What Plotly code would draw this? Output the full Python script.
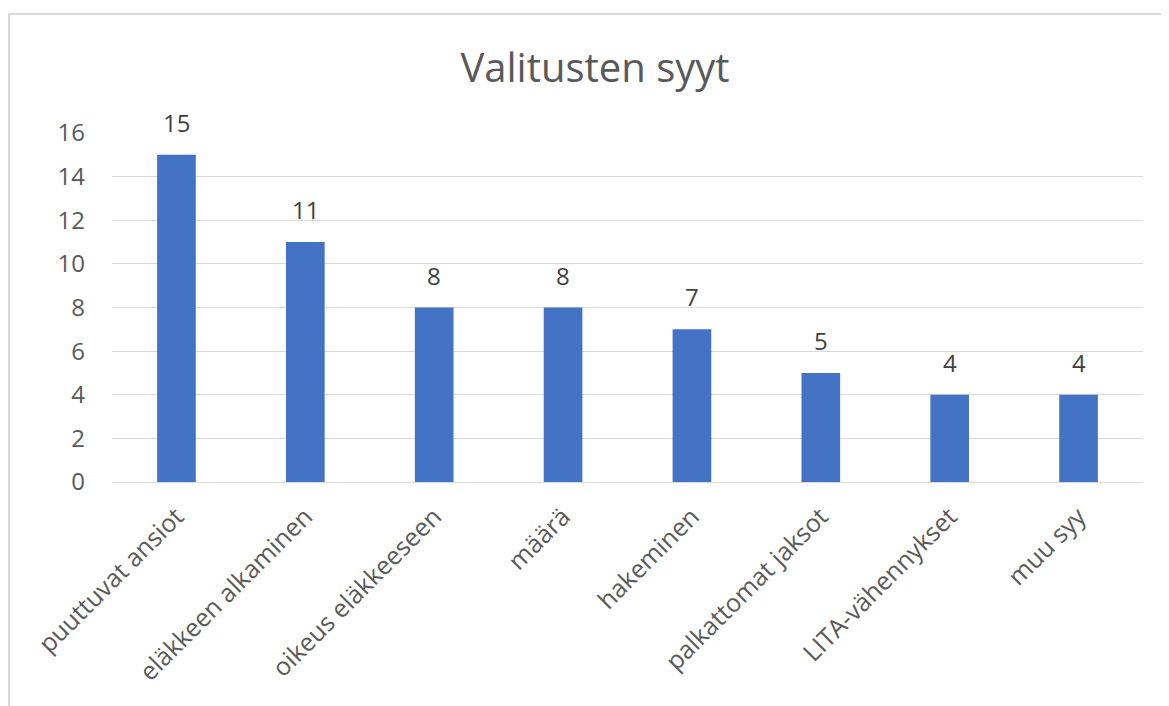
import plotly.graph_objects as go

categories = ["puuttuvat ansiot", "eläkkeen alkaminen", "oikeus eläkkeeseen", "määrä",
              "hakeminen", "palkattomat jaksot", "LITA-vähennykset", "muu syy"]
values = [15, 11, 8, 8, 7, 5, 4, 4]
y_ticks = [0, 2, 4, 6, 8, 10, 12, 14, 16]

OFF = 8  # page body margin
W, H = 1161, 698
ml, mt = 112 - OFF, 133 - OFF
mr = W - (1143 - OFF)
mb = H - (482 - OFF)
pw, ph = W - ml - mr, H - mt - mb

FONT = "Open Sans, sans-serif"

fig = go.Figure(go.Bar(
    x=categories, y=values, width=0.30,
    marker=dict(color="#4472C4", line=dict(width=0)),
))

for c, v in zip(categories, values):
    fig.add_annotation(x=c, y=v, text=str(v), showarrow=False, yanchor="bottom",
                       yshift=14, font=dict(family=FONT, size=24, color="#404040"))

fig.update_layout(
    width=W, height=H,
    margin=dict(l=ml, r=mr, t=mt, b=mb),
    paper_bgcolor="white", plot_bgcolor="white",
    title=dict(text="Valitusten syyt", x=(595 - OFF - ml) / pw, xref="paper", xanchor="center",
               y=1 - (68 - OFF) / H, yanchor="middle",
               font=dict(family=FONT, size=40, color="#595959")),
    font=dict(family=FONT, color="#595959"),
    showlegend=False,
)
fig.update_xaxes(tickangle=-45, tickfont=dict(size=25, color="#595959"),
                 showline=False, showgrid=False, ticks="", ticklen=0, ticklabelstandoff=14)
fig.update_yaxes(range=[0, 16], tickvals=y_ticks, showgrid=True, gridcolor="#D9D9D9",
                 gridwidth=1, zeroline=True, zerolinecolor="#D9D9D9", zerolinewidth=1,
                 tickfont=dict(size=24, color="#595959"), ticks="", ticklabelstandoff=26)

# outer chart border
x0 = (9 - OFF - ml) / pw
y1 = (H - mb - (14 - OFF)) / ph
fig.add_shape(type="rect", xref="paper", yref="paper", x0=x0, x1=1.2, y0=-1.0, y1=y1,
              line=dict(color="#D9D9D9", width=2), layer="below")

fig.write_html("out.html")
